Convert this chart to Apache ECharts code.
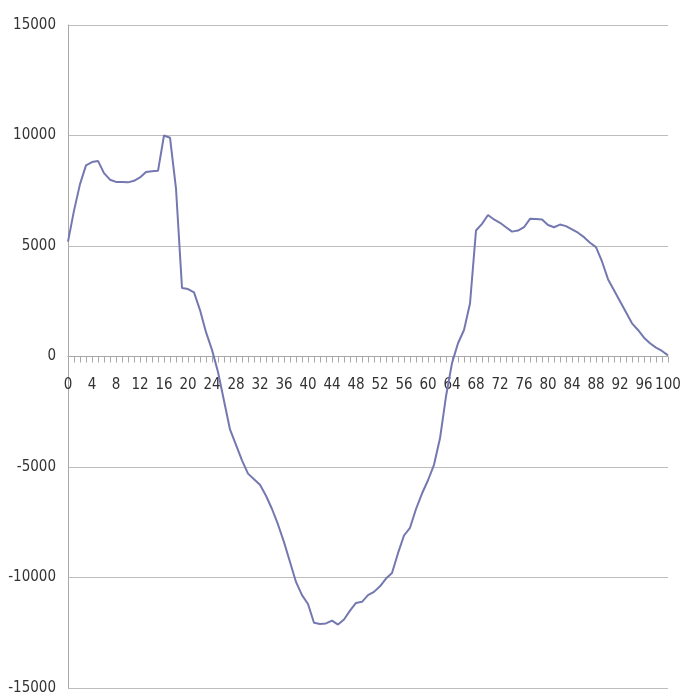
<!DOCTYPE html>
<html>
<head>
<meta charset="utf-8">
<script src="https://cdn.jsdelivr.net/npm/echarts@6/dist/echarts.min.js"></script>
<style>html,body{margin:0;padding:0;background:#fff;}#c{width:680px;height:696px;}</style>
</head>
<body>
<div id="c"></div>
<script>
var categories = [];
for (var k = 0; k <= 100; k++) categories.push(String(k));
var values = [
  5200, 6600, 7800, 8650, 8800, 8850, 8300, 8000, 7900, 7900,
  7880, 7950, 8100, 8350, 8380, 8400, 10000, 9900, 7600, 3100,
  3050, 2900, 2100, 1100, 300, -700, -2000, -3300, -4000, -4700,
  -5300, -5550, -5800, -6300, -6900, -7600, -8400, -9300, -10200, -10800,
  -11200, -12050, -12100, -12080, -11950, -12130, -11900, -11500, -11150, -11100,
  -10800, -10650, -10400, -10050, -9800, -8900, -8100, -7750, -6900, -6200,
  -5600, -4900, -3700, -1800, -300, 600, 1200, 2400, 5700, 6000,
  6400, 6200, 6050, 5850, 5650, 5700, 5850, 6230, 6220, 6200,
  5950, 5850, 5970, 5900, 5750, 5600, 5400, 5150, 4950, 4300,
  3500, 3000, 2500, 2000, 1500, 1200, 850, 600, 400, 250,
  50
];
var yMin = -15000, yMax = 15000, yStep = 5000;
var yLabels = ['-15000', '-10000', '-5000', '0', '5000', '10000', '15000'];
var FONT = '"Liberation Sans Narrow", "DejaVu Sans Condensed", sans-serif';

var chart = echarts.init(document.getElementById('c'));
chart.setOption({
  animation: false,
  backgroundColor: '#fff',
  grid: { left: 68, right: 12, top: 25, bottom: 8, containLabel: false, outerBoundsMode: 'none' },
  xAxis: {
    type: 'category',
    data: categories,
    boundaryGap: false,
    position: 'bottom',
    offset: -331.5,
    axisLine: { onZero: false, lineStyle: { color: '#a8a8a8', width: 1 } },
    axisTick: { show: true, interval: 0, length: 6, lineStyle: { color: '#a8a8a8' } },
    axisLabel: {
      show: true, interval: 3, color: '#333', fontSize: 15,
      fontFamily: FONT, margin: 21
    },
    splitLine: { show: false }
  },
  yAxis: {
    type: 'value',
    min: yMin, max: yMax, interval: yStep,
    axisLine: { show: true, lineStyle: { color: '#a8a8a8' } },
    axisTick: { show: false },
    axisLabel: {
      color: '#333', fontSize: 15, margin: 12,
      fontFamily: FONT,
      formatter: function (v, i) { return yLabels[i]; }
    },
    splitLine: { show: true, lineStyle: { color: '#bdbdbd', width: 1 } }
  },
  series: [{
    type: 'line',
    data: values,
    showSymbol: false,
    symbol: 'none',
    lineStyle: { color: '#7478b0', width: 2 },
    itemStyle: { color: '#7478b0' }
  }]
});
</script>
</body>
</html>
